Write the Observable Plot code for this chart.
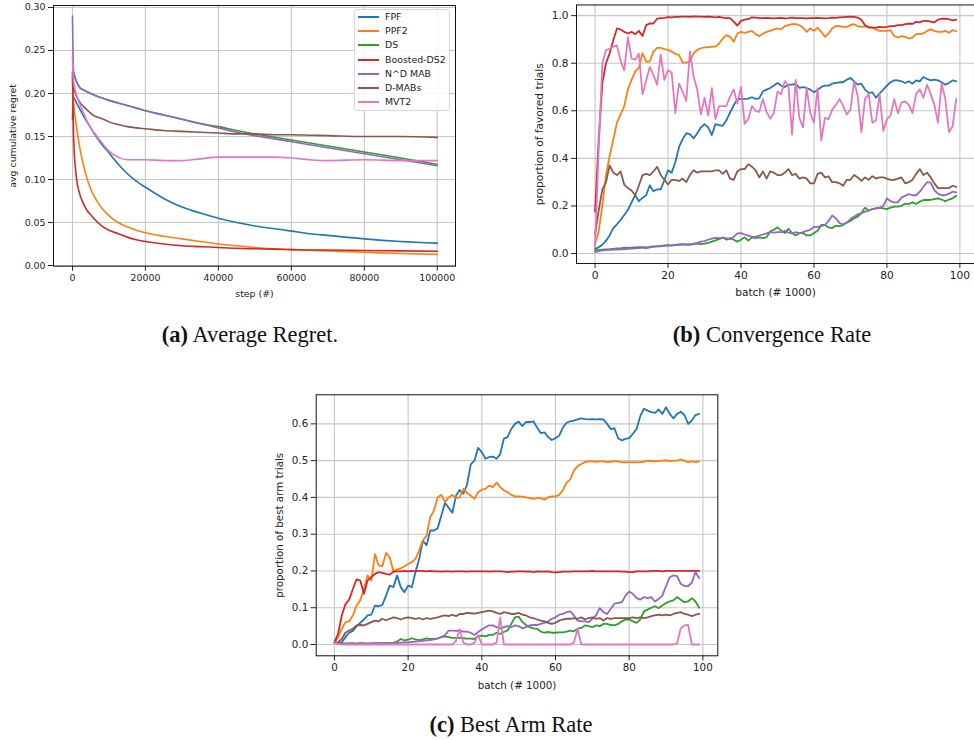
<!DOCTYPE html>
<html>
<head>
<meta charset="utf-8">
<script src="https://cdn.jsdelivr.net/npm/d3@7"></script>
<script src="https://cdn.jsdelivr.net/npm/@observablehq/plot@0.6"></script>
<style>
  html, body { margin: 0; padding: 0; background: #fff; }
  body { width: 974px; height: 740px; overflow: hidden; position: relative; font-family: "DejaVu Sans", sans-serif; }
  .panel { position: absolute; }
  .panel svg { overflow: visible; }
  .cap { position: absolute; font-family: "Liberation Serif", "Times New Roman", serif; font-size: 22.5px; color: #111;
         white-space: nowrap; transform: translate(-50%, -50%); line-height: 1; }
  .legend { position: absolute; left: 354px; top: 9px; width: 96px; height: 102px; box-sizing: border-box;
            border: 1px solid #d8d8d8; border-radius: 3px; background: rgba(255,255,255,0.85);
            font-family: "DejaVu Sans", sans-serif; font-size: 9.4px; color: #222; }
  .legend .item { position: absolute; left: 0; width: 94px; height: 12px; line-height: 12px; white-space: nowrap; }
  .legend .sw { position: absolute; left: 3px; top: 5px; width: 21px; height: 2px; }
  .legend .lb { position: absolute; left: 30px; top: 0; }
</style>
</head>
<body>
<div id="pa" class="panel" style="left:0px;top:0px"></div>
<div id="pb" class="panel" style="left:480px;top:0px"></div>
<div id="pc" class="panel" style="left:260px;top:370px"></div>
<div id="legend" class="legend"></div>
<div class="cap" style="left:250px;top:335px"><b>(a)</b> Average Regret.</div>
<div class="cap" style="left:772px;top:335px"><b>(b)</b> Convergence Rate</div>
<div class="cap" style="left:511px;top:725px"><b>(c)</b> Best Arm Rate</div>
<script>
// ---------- series ----------
const seriesNames = ["FPF", "PPF2", "DS", "Boosted-DS2", "N^D MAB", "D-MABs", "MVT2"];
const seriesColors = ["#1f77b4", "#ff7f0e", "#2ca02c", "#d62728", "#9467bd", "#8c564b", "#e377c2"];

// ---------- (a) average cumulative regret ----------
const regretSteps = [0, 300, 1000, 2000, 3000, 4000, 5000, 6000, 8000, 10000, 12500, 15000, 17500, 20000,
  25000, 30000, 35000, 40000, 45000, 50000, 55000, 60000, 65000, 70000, 80000, 90000, 100000];
const regretFPF = [0.170, 0.196, 0.190, 0.182, 0.174, 0.167, 0.160, 0.153, 0.141, 0.131, 0.118, 0.107, 0.098, 0.091,
  0.078, 0.068, 0.061, 0.055, 0.050, 0.046, 0.043, 0.040, 0.037, 0.035, 0.031, 0.028, 0.026];
const regretPPF2 = [0.215, 0.190, 0.165, 0.137, 0.117, 0.101, 0.089, 0.080, 0.067, 0.058, 0.050, 0.045, 0.041, 0.038,
  0.034, 0.031, 0.028, 0.025, 0.023, 0.021, 0.0195, 0.0185, 0.0178, 0.017, 0.0155, 0.014, 0.013];
const regretDS = [0.225, 0.224, 0.215, 0.207, 0.204, 0.202, 0.200, 0.198, 0.195, 0.192, 0.189, 0.186, 0.183, 0.180,
  0.175, 0.170, 0.165, 0.1615, 0.157, 0.153, 0.1495, 0.146, 0.1425, 0.139, 0.132, 0.125, 0.1175];
const regretBoosted = [0.225, 0.150, 0.105, 0.083, 0.072, 0.064, 0.059, 0.054, 0.046, 0.041, 0.037, 0.033, 0.030, 0.028,
  0.025, 0.023, 0.022, 0.021, 0.020, 0.0195, 0.019, 0.0185, 0.018, 0.018, 0.0175, 0.017, 0.0165];
const regretNDMAB = [0.290, 0.226, 0.215, 0.207, 0.204, 0.202, 0.200, 0.198, 0.195, 0.192, 0.189, 0.186, 0.183, 0.180,
  0.175, 0.170, 0.165, 0.160, 0.155, 0.151, 0.1475, 0.144, 0.1405, 0.137, 0.130, 0.123, 0.116];
const regretDMABs = [0.220, 0.208, 0.198, 0.190, 0.185, 0.181, 0.177, 0.174, 0.171, 0.167, 0.164, 0.1615, 0.160, 0.159,
  0.157, 0.156, 0.155, 0.154, 0.153, 0.153, 0.152, 0.152, 0.1515, 0.151, 0.150, 0.150, 0.149];
const regretMVT2 = [0.243, 0.215, 0.200, 0.188, 0.178, 0.168, 0.160, 0.154, 0.143, 0.133, 0.126, 0.123, 0.123, 0.123,
  0.122, 0.122, 0.124, 0.126, 0.126, 0.126, 0.126, 0.125, 0.123, 0.122, 0.123, 0.122, 0.122];

// ---------- batches (# 1000) ----------
const batches = d3.range(0, 100);

// ---------- (b) proportion of favored trials ----------
const convFPF = [0.021,0.026,0.037,0.054,0.076,0.107,0.123,0.141,0.162,0.183,
  0.215,0.245,0.22,0.234,0.245,0.287,0.262,0.27,0.27,0.308,
  0.35,0.34,0.384,0.447,0.481,0.506,0.502,0.484,0.506,0.53,
  0.544,0.53,0.498,0.544,0.54,0.537,0.56,0.592,0.623,0.648,
  0.65,0.65,0.651,0.657,0.65,0.652,0.682,0.689,0.696,0.706,
  0.717,0.706,0.70,0.71,0.71,0.714,0.696,0.70,0.696,0.689,
  0.678,0.687,0.70,0.706,0.706,0.714,0.717,0.72,0.72,0.731,
  0.738,0.724,0.71,0.714,0.689,0.675,0.678,0.655,0.673,0.689,
  0.706,0.72,0.728,0.728,0.724,0.717,0.724,0.714,0.728,0.724,
  0.742,0.734,0.728,0.731,0.728,0.72,0.71,0.717,0.728,0.724];
const convPPF2 = [0.04,0.093,0.204,0.33,0.41,0.48,0.55,0.585,0.62,0.69,
  0.73,0.766,0.78,0.842,0.807,0.807,0.849,0.865,0.865,0.859,
  0.856,0.849,0.839,0.835,0.803,0.803,0.807,0.842,0.856,0.863,
  0.867,0.867,0.87,0.87,0.883,0.904,0.918,0.911,0.89,0.925,
  0.932,0.928,0.932,0.936,0.922,0.914,0.925,0.932,0.936,0.942,
  0.946,0.942,0.956,0.96,0.964,0.964,0.96,0.95,0.932,0.946,
  0.936,0.95,0.932,0.911,0.925,0.946,0.956,0.956,0.953,0.953,
  0.96,0.964,0.956,0.953,0.956,0.953,0.95,0.942,0.936,0.936,
  0.936,0.939,0.914,0.908,0.914,0.911,0.904,0.908,0.922,0.922,
  0.925,0.936,0.942,0.936,0.932,0.932,0.936,0.928,0.939,0.935];
const convDS = [0.014,0.015,0.016,0.017,0.018,0.02,0.022,0.022,0.025,0.024,
  0.025,0.026,0.027,0.027,0.026,0.028,0.03,0.03,0.032,0.034,
  0.035,0.033,0.036,0.038,0.04,0.038,0.036,0.04,0.042,0.04,
  0.042,0.045,0.05,0.055,0.06,0.068,0.058,0.065,0.058,0.05,
  0.058,0.068,0.054,0.068,0.065,0.068,0.065,0.068,0.093,0.10,
  0.11,0.096,0.086,0.104,0.086,0.076,0.086,0.086,0.076,0.076,
  0.086,0.096,0.12,0.12,0.11,0.107,0.117,0.115,0.12,0.13,
  0.137,0.148,0.155,0.17,0.193,0.18,0.187,0.19,0.193,0.19,
  0.187,0.193,0.197,0.197,0.20,0.21,0.208,0.215,0.208,0.218,
  0.225,0.225,0.226,0.229,0.232,0.227,0.22,0.227,0.232,0.243];
const convBoosted = [0.176,0.48,0.717,0.80,0.842,0.897,0.946,0.942,0.932,0.925,
  0.932,0.922,0.936,0.914,0.96,0.967,0.967,0.987,0.99,0.991,
  0.994,0.993,0.995,0.995,0.996,0.996,0.995,0.997,0.996,0.996,
  0.995,0.996,0.995,0.993,0.995,0.992,0.99,0.99,0.975,0.958,
  0.978,0.983,0.985,0.993,0.992,0.99,0.99,0.991,0.99,0.989,
  0.99,0.991,0.989,0.99,0.992,0.99,0.99,0.99,0.989,0.99,
  0.99,0.991,0.99,0.989,0.99,0.992,0.991,0.993,0.994,0.995,
  0.996,0.995,0.992,0.983,0.96,0.95,0.95,0.95,0.953,0.951,
  0.953,0.956,0.956,0.96,0.96,0.964,0.967,0.965,0.974,0.972,
  0.978,0.978,0.975,0.972,0.983,0.987,0.987,0.985,0.98,0.983];
const convNDMAB = [0.006,0.01,0.013,0.014,0.015,0.016,0.017,0.018,0.018,0.02,
  0.021,0.022,0.023,0.025,0.022,0.026,0.028,0.03,0.03,0.032,
  0.033,0.034,0.035,0.036,0.038,0.037,0.04,0.042,0.045,0.05,
  0.052,0.058,0.063,0.066,0.065,0.065,0.065,0.06,0.07,0.085,
  0.086,0.08,0.075,0.07,0.07,0.075,0.08,0.085,0.09,0.088,
  0.09,0.09,0.095,0.088,0.085,0.09,0.085,0.09,0.095,0.10,
  0.112,0.112,0.115,0.12,0.137,0.16,0.148,0.128,0.123,0.13,
  0.145,0.155,0.165,0.17,0.176,0.18,0.187,0.19,0.193,0.20,
  0.232,0.22,0.215,0.215,0.235,0.243,0.25,0.245,0.245,0.26,
  0.28,0.30,0.298,0.266,0.252,0.245,0.245,0.252,0.26,0.257];
const convDMABs = [0.08,0.18,0.27,0.30,0.37,0.34,0.33,0.345,0.29,0.275,
  0.265,0.245,0.285,0.33,0.335,0.33,0.345,0.365,0.33,0.31,
  0.29,0.31,0.31,0.305,0.315,0.30,0.33,0.35,0.34,0.345,
  0.345,0.345,0.345,0.35,0.35,0.335,0.35,0.315,0.31,0.345,
  0.355,0.355,0.375,0.365,0.35,0.32,0.345,0.315,0.345,0.34,
  0.33,0.33,0.34,0.355,0.33,0.335,0.315,0.32,0.315,0.295,
  0.295,0.335,0.34,0.32,0.325,0.30,0.30,0.295,0.285,0.31,
  0.31,0.33,0.32,0.305,0.32,0.31,0.325,0.315,0.32,0.32,
  0.315,0.31,0.31,0.315,0.32,0.295,0.30,0.31,0.335,0.355,
  0.33,0.34,0.32,0.295,0.275,0.275,0.275,0.275,0.285,0.28];
const convMVT2 = [0.03,0.44,0.80,0.855,0.86,0.87,0.875,0.81,0.77,0.91,
  0.82,0.815,0.84,0.67,0.725,0.785,0.75,0.71,0.835,0.73,
  0.77,0.76,0.59,0.715,0.68,0.64,0.85,0.745,0.69,0.585,
  0.655,0.58,0.695,0.565,0.62,0.62,0.62,0.66,0.69,0.63,
  0.70,0.545,0.565,0.62,0.60,0.595,0.65,0.595,0.567,0.59,
  0.68,0.67,0.725,0.705,0.50,0.73,0.57,0.53,0.695,0.59,
  0.55,0.695,0.475,0.57,0.565,0.605,0.625,0.65,0.62,0.585,
  0.605,0.725,0.66,0.51,0.65,0.67,0.55,0.56,0.67,0.515,
  0.565,0.58,0.65,0.59,0.635,0.64,0.625,0.59,0.67,0.69,
  0.655,0.71,0.67,0.625,0.55,0.715,0.65,0.51,0.535,0.65];

// ---------- (c) proportion of best arm trials ----------
const bestFPF = [0.006,0.005,0.006,0.02,0.032,0.037,0.05,0.059,0.068,0.079,
  0.081,0.106,0.104,0.108,0.133,0.16,0.156,0.188,0.156,0.142,
  0.16,0.156,0.197,0.233,0.282,0.27,0.31,0.31,0.316,0.35,
  0.385,0.372,0.358,0.405,0.42,0.41,0.435,0.49,0.50,0.535,
  0.523,0.505,0.51,0.511,0.505,0.518,0.56,0.564,0.586,0.60,
  0.606,0.594,0.605,0.605,0.607,0.59,0.575,0.577,0.564,0.556,
  0.561,0.568,0.59,0.603,0.607,0.609,0.612,0.615,0.613,0.612,
  0.613,0.612,0.613,0.612,0.60,0.586,0.588,0.561,0.555,0.559,
  0.561,0.573,0.586,0.621,0.641,0.636,0.632,0.63,0.639,0.627,
  0.645,0.627,0.615,0.627,0.633,0.624,0.60,0.609,0.624,0.627];
const bestPPF2 = [0.005,0.02,0.043,0.061,0.063,0.079,0.106,0.12,0.151,0.188,
  0.174,0.246,0.215,0.213,0.249,0.237,0.20,0.204,0.207,0.213,
  0.219,0.224,0.233,0.256,0.283,0.296,0.346,0.364,0.40,0.407,
  0.387,0.40,0.407,0.398,0.40,0.423,0.412,0.405,0.396,0.414,
  0.421,0.423,0.432,0.428,0.44,0.428,0.419,0.414,0.407,0.403,
  0.403,0.402,0.40,0.398,0.396,0.398,0.398,0.394,0.40,0.403,
  0.403,0.407,0.419,0.44,0.449,0.473,0.485,0.491,0.496,0.498,
  0.498,0.497,0.498,0.498,0.496,0.497,0.498,0.498,0.495,0.496,
  0.495,0.496,0.495,0.496,0.497,0.50,0.499,0.498,0.499,0.50,
  0.501,0.499,0.50,0.50,0.503,0.50,0.496,0.498,0.496,0.498];
const bestDS = [0.004,0.003,0.003,0.003,0.003,0.003,0.003,0.004,0.003,0.003,
  0.003,0.004,0.003,0.004,0.004,0.004,0.005,0.008,0.015,0.011,
  0.013,0.017,0.014,0.012,0.014,0.017,0.015,0.015,0.017,0.02,
  0.022,0.02,0.018,0.018,0.018,0.017,0.016,0.016,0.015,0.023,
  0.024,0.022,0.026,0.026,0.032,0.029,0.034,0.038,0.056,0.074,
  0.076,0.061,0.053,0.047,0.044,0.043,0.035,0.032,0.034,0.032,
  0.032,0.033,0.033,0.035,0.038,0.036,0.043,0.045,0.052,0.05,
  0.047,0.052,0.05,0.056,0.056,0.053,0.052,0.056,0.063,0.068,
  0.068,0.063,0.059,0.068,0.09,0.095,0.10,0.104,0.099,0.106,
  0.113,0.117,0.12,0.129,0.122,0.115,0.117,0.126,0.117,0.10];
const bestBoosted = [0.005,0.03,0.079,0.11,0.122,0.151,0.177,0.174,0.138,0.174,
  0.183,0.192,0.197,0.195,0.192,0.19,0.198,0.199,0.199,0.20,
  0.199,0.20,0.199,0.20,0.20,0.199,0.20,0.199,0.199,0.198,
  0.199,0.199,0.198,0.199,0.199,0.199,0.198,0.199,0.199,0.199,
  0.199,0.199,0.198,0.199,0.199,0.199,0.198,0.197,0.198,0.198,
  0.199,0.199,0.198,0.199,0.197,0.199,0.198,0.198,0.199,0.197,
  0.196,0.197,0.198,0.198,0.198,0.199,0.199,0.199,0.199,0.199,
  0.20,0.199,0.199,0.199,0.199,0.199,0.199,0.199,0.198,0.198,
  0.197,0.197,0.199,0.199,0.199,0.199,0.20,0.20,0.20,0.199,
  0.20,0.20,0.20,0.20,0.20,0.20,0.20,0.20,0.20,0.20];
const bestNDMAB = [0.005,0.003,0.002,0.002,0.003,0.003,0.002,0.003,0.003,0.002,
  0.003,0.003,0.004,0.003,0.004,0.003,0.004,0.004,0.005,0.006,
  0.006,0.007,0.008,0.009,0.01,0.011,0.012,0.014,0.016,0.02,
  0.025,0.038,0.038,0.037,0.038,0.035,0.035,0.032,0.026,0.034,
  0.041,0.047,0.052,0.052,0.047,0.044,0.047,0.05,0.047,0.052,
  0.05,0.044,0.047,0.052,0.053,0.053,0.056,0.059,0.063,0.07,
  0.074,0.081,0.083,0.088,0.09,0.079,0.065,0.063,0.063,0.061,
  0.07,0.079,0.099,0.088,0.083,0.097,0.111,0.113,0.115,0.133,
  0.144,0.138,0.126,0.122,0.129,0.126,0.129,0.117,0.124,0.133,
  0.159,0.183,0.188,0.186,0.165,0.159,0.159,0.168,0.197,0.18];
const bestDMABs = [0.005,0.006,0.015,0.032,0.038,0.043,0.052,0.053,0.052,0.056,
  0.061,0.065,0.063,0.07,0.066,0.07,0.074,0.072,0.068,0.072,
  0.074,0.072,0.07,0.072,0.068,0.072,0.07,0.072,0.074,0.077,
  0.079,0.077,0.081,0.077,0.083,0.083,0.086,0.085,0.084,0.086,
  0.088,0.09,0.092,0.09,0.086,0.083,0.088,0.086,0.083,0.083,
  0.086,0.081,0.079,0.074,0.072,0.068,0.065,0.063,0.059,0.056,
  0.059,0.065,0.068,0.07,0.07,0.072,0.07,0.074,0.068,0.072,
  0.074,0.07,0.072,0.065,0.072,0.07,0.072,0.072,0.072,0.072,
  0.072,0.074,0.072,0.074,0.072,0.074,0.077,0.079,0.081,0.079,
  0.081,0.079,0.083,0.086,0.088,0.083,0.081,0.077,0.081,0.083];
const bestMVT2 = [0.005,0.002,0,0,0,0,0,0,0,0,
  0,0,0,0,0,0,0,0,0,0,
  0,0,0,0,0,0,0,0,0,0,
  0,0,0,0.01,0.042,0.005,0,0,0.005,0.026,
  0,0,0,0,0.005,0.074,0,0,0,0,
  0,0,0,0,0,0,0,0,0,0,
  0,0,0,0,0,0.005,0.043,0,0,0,
  0,0,0,0,0,0,0,0,0,0,
  0,0,0,0,0,0,0,0,0,0,
  0,0,0,0.003,0.044,0.052,0.053,0,0,0];

// ---------- helpers ----------
function tidy(xs, arrays) {
  return arrays.flatMap((arr, i) => arr.map((v, j) => ({x: xs[j], y: v, name: seriesNames[i]})));
}

function panel(cfg) {
  const grid = {stroke: "#c6c6c6", strokeOpacity: 1, strokeWidth: 1.1};
  return Plot.plot({
    width: cfg.width, height: cfg.height,
    marginLeft: cfg.ml, marginRight: cfg.mr, marginTop: cfg.mt, marginBottom: cfg.mb,
    x: {domain: cfg.xDomain},
    y: {domain: cfg.yDomain},
    color: {domain: seriesNames, range: seriesColors},
    style: {fontFamily: "DejaVu Sans, sans-serif", fontSize: cfg.fontSize + "px", color: "#222", background: "transparent", overflow: "visible"},
    marks: [
      Plot.gridX(cfg.xTicks, grid),
      Plot.gridY(cfg.yTicks, grid),
      Plot.line(cfg.data, {x: "x", y: "y", z: "name", stroke: "name", strokeWidth: cfg.sw, curve: cfg.curve}),
      Plot.axisX(cfg.xTicks, {tickFormat: cfg.xFmt, tickSize: 5, tickPadding: 3, stroke: "#222",
        label: cfg.xLabel, labelAnchor: "center", labelArrow: "none", labelOffset: cfg.xlo}),
      Plot.axisY(cfg.yTicks, {tickFormat: cfg.yFmt, tickSize: 5, tickPadding: 3, stroke: "#222",
        label: cfg.yLabel, labelAnchor: "center", labelArrow: "none", labelOffset: cfg.ylo}),
      Plot.frame({stroke: "#111", strokeWidth: 1})
    ]
  });
}

// ---------- panel (a) ----------
document.getElementById("pa").append(panel({
  width: 480, height: 300, ml: 53, mr: 25, mt: 5, mb: 34.3,
  xDomain: [-5200, 105000], yDomain: [-0.0008, 0.3023],
  xTicks: [0, 20000, 40000, 60000, 80000, 100000], yTicks: [0, 0.05, 0.1, 0.15, 0.2, 0.25, 0.3],
  xFmt: d => String(d), yFmt: d => d.toFixed(2),
  xLabel: "step (#)", yLabel: "avg cumulative regret", xlo: 31, ylo: 44,
  fontSize: 9.4, sw: 1.6, curve: "monotone-x",
  data: tidy(regretSteps, [regretFPF, regretPPF2, regretDS, regretBoosted, regretNDMAB, regretDMABs, regretMVT2])
}));

// ---------- panel (b) ----------
document.getElementById("pb").append(panel({
  width: 499, height: 300, ml: 97, mr: 0, mt: 4.5, mb: 34.3,
  xDomain: [-5.08, 104], yDomain: [-0.042, 1.045],
  xTicks: [0, 20, 40, 60, 80, 100], yTicks: [0, 0.2, 0.4, 0.6, 0.8, 1.0],
  xFmt: d => String(d), yFmt: d => d.toFixed(1),
  xLabel: "batch (# 1000)", yLabel: "proportion of favored trials", xlo: 33, ylo: 41,
  fontSize: 10.7, sw: 1.8, curve: "linear",
  data: tidy(batches, [convFPF, convPPF2, convDS, convBoosted, convNDMAB, convDMABs, convMVT2])
}));

// ---------- panel (c) ----------
document.getElementById("pc").append(panel({
  width: 460, height: 325, ml: 55.7, mr: 2.7, mt: 24.3, mb: 39.7,
  xDomain: [-4.95, 104.05], yDomain: [-0.0307, 0.679],
  xTicks: [0, 20, 40, 60, 80, 100], yTicks: [0, 0.1, 0.2, 0.3, 0.4, 0.5, 0.6],
  xFmt: d => String(d), yFmt: d => d.toFixed(1),
  xLabel: "batch (# 1000)", yLabel: "proportion of best arm trials", xlo: 33, ylo: 41,
  fontSize: 10.3, sw: 1.8, curve: "linear",
  data: tidy(batches, [bestFPF, bestPPF2, bestDS, bestBoosted, bestNDMAB, bestDMABs, bestMVT2])
}));

// ---------- legend for (a) ----------
const legend = document.getElementById("legend");
const legendTops = [1, 15, 29, 44, 58, 72, 86];
seriesNames.forEach((name, i) => {
  const item = document.createElement("div");
  item.className = "item";
  item.style.top = legendTops[i] + "px";
  const sw = document.createElement("div");
  sw.className = "sw";
  sw.style.background = seriesColors[i];
  const lb = document.createElement("span");
  lb.className = "lb";
  lb.textContent = name;
  item.append(sw, lb);
  legend.append(item);
});
</script>
</body>
</html>
